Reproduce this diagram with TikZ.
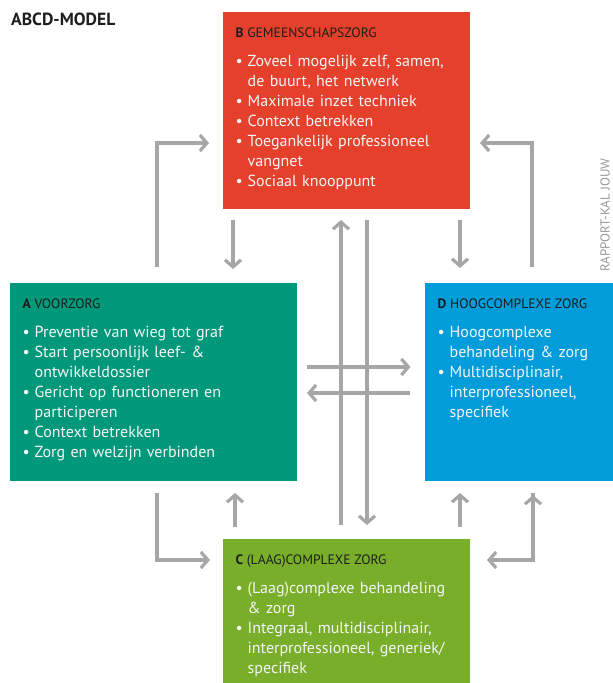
\documentclass[tikz,border=0pt]{standalone}
\usepackage{fontspec}
\setmainfont{PT Sans}
\usepackage{tikz}
\usetikzlibrary{calc,arrows.meta}
\definecolor{zorg-A}{RGB}{  0,152,122}
\definecolor{zorg-B}{RGB}{228, 64, 44}
\definecolor{zorg-C}{RGB}{120,174, 42}
\definecolor{zorg-D}{RGB}{  0,157,218}
\definecolor{pijl}{RGB}{166,166,166}
\definecolor{inkt}{RGB}{ 30, 30, 28}
\tikzstyle{e}=[line width=3.2pt,draw=pijl,arrows={-Straight Barb[length=7pt,width=16pt]},shorten <=11pt,shorten >=14pt]
\tikzstyle{haak}=[to path={|- (\tikztotarget)}]
\tikzstyle{blok}=[rectangle,draw=none,inner sep=0pt,outer sep=0pt,anchor=north west]
\tikzstyle{kop}=[anchor=base west,inner sep=0pt,text=inkt,font=\fontsize{13.6}{16}\selectfont]
\tikzstyle{lijst}=[anchor=north west,inner sep=0pt,text=white!96!black,text width=250pt,align=left,font=\fontsize{16}{20}\selectfont]
\tikzstyle{n-voorzorg}=[blok,fill=zorg-A,minimum width=287pt,minimum height=198pt]
\tikzstyle{n-gemeenschap}=[blok,fill=zorg-B,minimum width=247pt,minimum height=197pt]
\tikzstyle{n-laagcomplex}=[blok,fill=zorg-C,minimum width=247pt,minimum height=160pt]
\tikzstyle{n-hoogcomplex}=[blok,fill=zorg-D,minimum width=200pt,minimum height=198pt]
\newcommand{\itm}{\par\noindent\llap{\makebox[12pt][l]{\textbullet}}\strut}

\begin{document}
\begin{tikzpicture}[x=1pt,y=-1pt]
    \useasboundingbox (0,0) rectangle (613,683);

    \node[anchor=base west,inner sep=0pt,text=inkt,font=\bfseries\fontsize{17.6}{20}\selectfont] (titel) at (11,25) {ABCD-MODEL};
    \node[rotate=90,inner sep=0pt,text=black!40,font=\fontsize{13}{15}\selectfont] (bron) at (605,215) {RAPPORT-KAL JOUW};

    \node[n-voorzorg]    (voorzorg)    at (10,283)  {};
    \node[n-gemeenschap] (gemeenschap) at (223,12)  {};
    \node[n-hoogcomplex] (hoogcomplex) at (425,283) {};
    \node[n-laagcomplex] (laagcomplex) at (223,539) {};

    \node[kop] (kop-a) at ($(voorzorg.north west)+(12.5,25)$)    {\textbf{A} VOORZORG};
    \node[kop] (kop-b) at ($(gemeenschap.north west)+(12.5,25)$) {\textbf{B} GEMEENSCHAPSZORG};
    \node[kop] (kop-c) at ($(laagcomplex.north west)+(12.5,25)$) {\textbf{C} (LAAG)COMPLEXE ZORG};
    \node[kop] (kop-d) at ($(hoogcomplex.north west)+(12.5,25)$) {\textbf{D} HOOGCOMPLEXE ZORG};

    \node[lijst] (lijst-a) at ($(voorzorg.north west)+(24.5,34)$) {%
      \itm Preventie van wieg tot graf
      \itm Start persoonlijk leef- \&\\ ontwikkeldossier
      \itm Gericht op functioneren en\\ participeren
      \itm Context betrekken
      \itm Zorg en welzijn verbinden};
    \node[lijst] (lijst-b) at ($(gemeenschap.north west)+(24.5,34)$) {%
      \itm Zoveel mogelijk zelf, samen,\\ de buurt, het netwerk
      \itm Maximale inzet techniek
      \itm Context betrekken
      \itm Toegankelijk professioneel\\ vangnet
      \itm Sociaal knooppunt};
    \node[lijst] (lijst-c) at ($(laagcomplex.north west)+(24.5,34)$) {%
      \itm (Laag)complexe behandeling\\ \& zorg
      \itm Integraal, multidisciplinair,\\ interprofessioneel, generiek/\\ specifiek};
    \node[lijst] (lijst-d) at ($(hoogcomplex.north west)+(24.5,34)$) {%
      \itm Hoogcomplexe\\ behandeling \& zorg
      \itm Multidisciplinair,\\ interprofessioneel,\\ specifiek};

    % kolommen, rijen en hoeken van de pijlen
    \coordinate (k-ba) at (233,0);
    \coordinate (k-ca) at (235,0);
    \coordinate (k-cb) at (341,0);
    \coordinate (k-bc) at (367,0);
    \coordinate (k-bd) at (460,0);
    \coordinate (r-ad) at (0,367);
    \coordinate (r-da) at (0,393);
    \coordinate (h-lb) at (157,143);
    \coordinate (h-rb) at (532,143);
    \coordinate (h-lo) at (157,560);
    \coordinate (h-ro) at (533,560);

    \draw[e]
      (gemeenschap.south -| k-ba) edge (voorzorg.north -| k-ba)
      (laagcomplex.north -| k-ca) edge[shorten <=12pt,shorten >=12pt] (voorzorg.south -| k-ca)
      (laagcomplex.north -| k-cb) edge[shorten <=14pt,shorten >=11pt] (gemeenschap.south -| k-cb)
      (gemeenschap.south -| k-bc) edge (laagcomplex.north -| k-bc)
      (gemeenschap.south -| k-bd) edge[shorten >=15pt] (hoogcomplex.north -| k-bd)
      (laagcomplex.north -| k-bd) edge[shorten <=12pt,shorten >=12pt] (hoogcomplex.south -| k-bd)
      (voorzorg.east |- r-ad)     edge[shorten <=10pt,shorten >=14.5pt] (hoogcomplex.west |- r-ad)
      (hoogcomplex.west |- r-da)  edge[shorten <=15pt,shorten >=10pt] (voorzorg.east |- r-da)
      (voorzorg.north -| h-lb)    edge[haak,shorten <=16pt] (gemeenschap.west |- h-lb)
      (hoogcomplex.north -| h-rb) edge[haak,shorten <=16pt,shorten >=10pt] (gemeenschap.east |- h-rb)
      (voorzorg.south -| h-lo)    edge[haak,shorten <=12pt,shorten >=13pt] (laagcomplex.west |- h-lo)
      (hoogcomplex.south -| h-ro) edge[haak,shorten <=12pt,shorten >=17pt] (laagcomplex.east |- h-ro);

\end{tikzpicture}
\end{document}
